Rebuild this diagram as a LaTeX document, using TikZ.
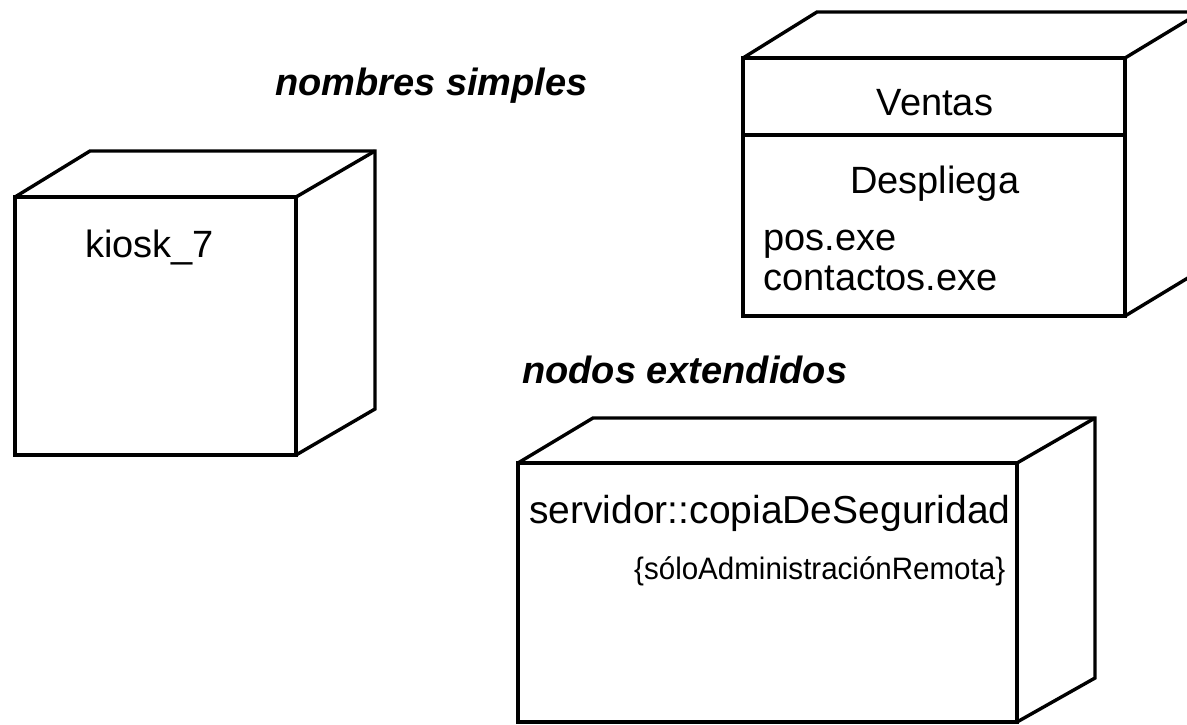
\documentclass[tikz,border=0pt]{standalone}
\usepackage{fontspec}
\setmainfont{Liberation Sans}
\begin{document}
\begin{tikzpicture}[x=1pt,y=-1pt,
  edge/.style={line width=3.4pt,line join=miter,black},
  lbl/.style={inner sep=0pt,anchor=base west,font=\fontsize{38}{42}\selectfont},
  ttl/.style={inner sep=0pt,anchor=base west,font=\fontsize{38}{42}\selectfont\bfseries\itshape},
  small/.style={inner sep=0pt,anchor=base west,font=\fontsize{31}{34}\selectfont}]
\clip (0,0) rectangle (1187,724);
\fill[white] (0,0) rectangle (1187,724);
% titles
\node[ttl] (t1) at (275,95) {nombres simples};
\node[ttl] (t2) at (522,383) {nodos extendidos};
% kiosk cube
\draw[edge] (15,197) rectangle (296,455);
\draw[edge] (15,197) -- (90,151) -- (375,151) -- (375,409) -- (296,455);
\draw[edge] (296,197) -- (375,151);
\node[lbl] (k) at (85,257) {kiosk\_7};
% Ventas cube
\draw[edge] (743,58) rectangle (1125,316);
\draw[edge] (743,58) -- (817,12) -- (1201,12) -- (1201,270) -- (1125,316);
\draw[edge] (1125,58) -- (1201,12);
\draw[edge] (743,135) -- (1125,135);
\node[lbl,anchor=base] (v) at (935,115) {Ventas};
\node[lbl] (d) at (850,193) {Despliega};
\node[lbl] (p) at (763,250) {pos.exe};
\node[lbl] (c) at (763,290) {contactos.exe};
% server cube
\draw[edge] (518,463) rectangle (1017,722);
\draw[edge] (518,463) -- (593,418) -- (1095,418) -- (1095,678) -- (1017,722);
\draw[edge] (1017,463) -- (1095,418);
\node[lbl,font=\fontsize{39}{42}\selectfont] (s) at (529,523) {servidor::copiaDeSeguridad};
\node[small] (r) at (634,579) {\resizebox{371pt}{\height}{\{sóloAdministraciónRemota\}}};
\end{tikzpicture}
\end{document}
